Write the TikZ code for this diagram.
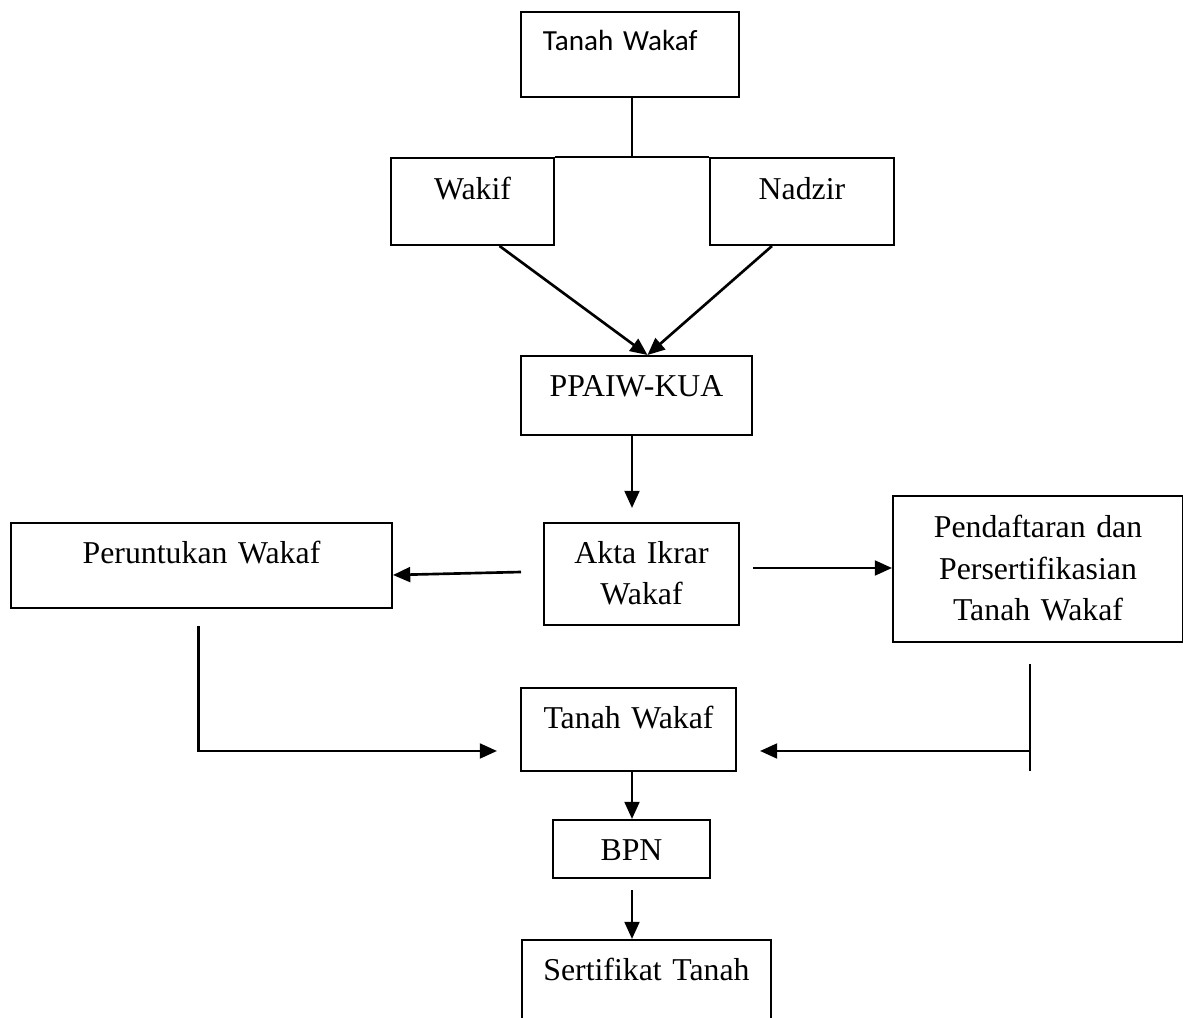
\documentclass[tikz,border=0pt]{standalone}
\usepackage{fontspec}
\setmainfont{Liberation Serif}
\newfontfamily\carlito{Carlito}
\usepackage{tikz}
\usetikzlibrary{arrows.meta,positioning,calc}
\definecolor{ink}{HTML}{000000}
\tikzset{
  box/.style={draw=ink,line width=0.75pt,inner sep=0pt,align=center,anchor=north west,
              font=\fontsize{12}{15.5}\selectfont},
  link/.style={draw=ink,line width=1pt},
  arr/.style={link,-{Triangle[length=6.5pt,width=5.6pt]}}
}

\begin{document}
\begin{tikzpicture}[x=0.3774pt,y=-0.3774pt]
      \useasboundingbox (0,0) rectangle (1183,1018);
      \clip (0,0) rectangle (1183,1018);
      \coordinate (axis) at (632,0);
      \node[box,align=left,inner xsep=8.3pt,text width=65.67pt,text height=14.72pt,text depth=17.36pt,
            font=\carlito\fontsize{11}{13.4}\selectfont] (tw1) at (520,11) {Tanah Wakaf};
      \node[box,text width=61.52pt,text height=15.85pt,text depth=16.98pt] (wakif) at (390,157) {Wakif};
      \node[box,text width=69.44pt,text height=15.85pt,text depth=16.98pt] (nadzir) at (709,157) {Nadzir};
      \node[box,text width=87.18pt,text height=15.10pt,text depth=14.72pt] (ppaiw) at (520,355) {PPAIW-KUA};
      \node[box,text width=73.59pt,text height=15.10pt,text depth=23.40pt] (akta) at (543,522) {Akta Ikrar\\Wakaf};
      \node[box,text width=143.79pt,text height=15.10pt,text depth=16.98pt] (peruntukan) at (10,522) {Peruntukan Wakaf};
      \node[box,text width=109.45pt,text height=15.85pt,text depth=39.25pt] (pendaftaran) at (892,495)
        {Pendaftaran dan\\Persertifikasian\\Tanah Wakaf};
      \node[box,text width=81.14pt,text height=15.47pt,text depth=15.85pt] (tw2) at (520,687) {Tanah Wakaf};
      \node[box,text width=59.25pt,text height=15.10pt,text depth=6.79pt] (bpn) at (552,819) {BPN};
      \node[box,text width=93.97pt,text height=15.47pt,text depth=22.6pt] (sertifikat) at (521,939) {Sertifikat Tanah};

      \draw[link] ($(tw1.south)+(2,0)$) -- ($(tw1.south |- wakif.north)+(2,0)$);
      \draw[link] (wakif.north east) -- (nadzir.north west);
      \draw[arr] ($(wakif.south)+(27,0)$) -- ($(ppaiw.north)+(11,0)$);
      \draw[arr] ($(nadzir.south)+(-30,0)$) -- ($(ppaiw.north)+(11,0)$);
      \draw[arr] (ppaiw.south -| axis) -- ($(akta.north -| axis)+(0,-14)$);
      \coordinate (akta-l) at ($(akta.west)+(-22,-2)$);
      \coordinate (akta-r) at ($(akta.east)+(13,-6)$);
      \draw[arr] (akta-l) -- ($(peruntukan.east |- akta-l)+(0,3)$);
      \draw[arr] (akta-r) -- (akta-r -| pendaftaran.west);
      \coordinate (tw2-l) at ($(tw2.west)+(-23,21.5)$);
      \coordinate (tw2-r) at ($(tw2.east)+(23,21.5)$);
      \draw[arr] ($(peruntukan.south)+(-3,17)$) |- (tw2-l);
      \coordinate (pd-drop) at ($(pendaftaran.south)+(-8,21)$);
      \draw[link] (pd-drop) -- ++(0,107);
      \draw[arr] (pd-drop |- tw2-r) -- (tw2-r);
      \draw[arr] (tw2.south -| axis) -- (bpn.north -| axis);
      \draw[arr] ($(bpn.south -| axis)+(0,11)$) -- (sertifikat.north -| axis);
    \end{tikzpicture}
\end{document}
